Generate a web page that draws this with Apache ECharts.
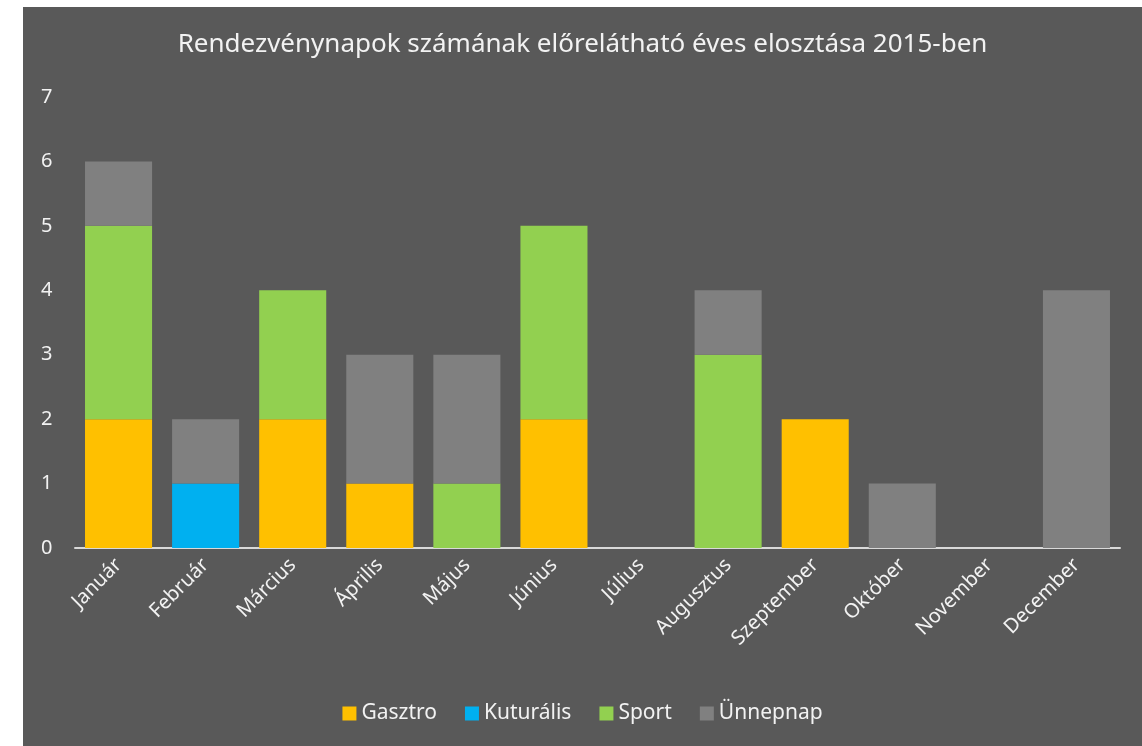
<!DOCTYPE html>
<html>
<head>
<meta charset="utf-8">
<script src="https://cdn.jsdelivr.net/npm/echarts@6/dist/echarts.min.js"></script>
<style>
  html, body { margin: 0; padding: 0; background: #fff; }
  #chart { position: absolute; left: 23px; top: 7px; width: 1119px; height: 739px; }
</style>
</head>
<body>
<div id="chart"></div>
<script>
// havi adatok
var months = ['Január','Február','Március','Április','Május','Június','Július','Augusztus','Szeptember','Október','November','December'];
var gasztro   = [2, 0, 2, 1, 0, 2, 0, 0, 2, 0, 0, 0];
var kulturalis = [0, 1, 0, 0, 0, 0, 0, 0, 0, 0, 0, 0];
var sport     = [3, 0, 2, 0, 1, 3, 0, 3, 0, 0, 0, 0];
var unnepnap  = [1, 1, 0, 2, 2, 0, 0, 1, 0, 1, 0, 4];

var font = '"Noto Sans", sans-serif';
function mk(name, data, color) {
  return {
    name: name,
    type: 'bar',
    stack: 'total',
    barWidth: '77%',
    data: data.map(function (v) { return v === 0 ? null : v; }),
    itemStyle: { color: color },
    emphasis: { disabled: true }
  };
}

var myChart = echarts.init(document.getElementById('chart'));
var option = {
  backgroundColor: '#595959',
  animation: false,
  textStyle: { fontFamily: font },
  title: {
    text: 'Rendezvénynapok számának előrelátható éves elosztása 2015-ben',
    left: 'center',
    top: 20,
    textStyle: { color: '#f2f2f2', fontSize: 26, fontWeight: 'normal', fontFamily: font }
  },
  legend: {
    bottom: 17,
    left: 'center',
    itemWidth: 14,
    itemHeight: 14,
    itemGap: 28,
    icon: 'rect',
    textStyle: { color: '#f2f2f2', fontSize: 21, fontFamily: font },
    data: ['Gasztro', 'Kuturális', 'Sport', 'Ünnepnap']
  },
  grid: { left: 52, right: 22, top: 90, bottom: 198, containLabel: false },
  xAxis: {
    type: 'category',
    data: months,
    axisLine: { lineStyle: { color: '#d9d9d9', width: 2 } },
    axisTick: { show: false },
    axisLabel: { rotate: 45, color: '#f2f2f2', fontSize: 20, margin: 14, fontFamily: font, interval: 0 }
  },
  yAxis: {
    type: 'value',
    min: 0,
    max: 7,
    interval: 1,
    splitLine: { show: false },
    axisLine: { show: false },
    axisTick: { show: false },
    axisLabel: { color: '#f2f2f2', fontSize: 20, margin: 34, align: 'left', fontFamily: font }
  },
  series: [
    mk('Gasztro', gasztro, '#ffc000'),
    mk('Kuturális', kulturalis, '#00b0f0'),
    mk('Sport', sport, '#92d050'),
    mk('Ünnepnap', unnepnap, '#808080')
  ]
};
myChart.setOption(option);
</script>
</body>
</html>
